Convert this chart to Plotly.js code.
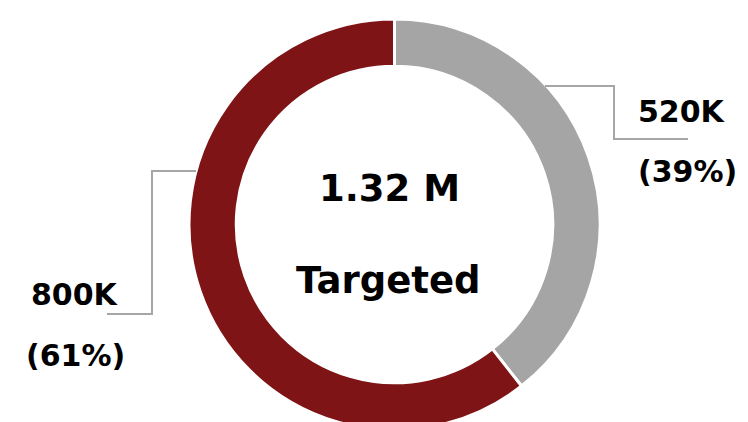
<!DOCTYPE html>
<html>
<head>
<meta charset="utf-8">
<script src="https://cdn.plot.ly/plotly-3.0.1.min.js"></script>
<style>
html,body{margin:0;padding:0;overflow:hidden;background:#fff;width:748px;height:422px;}
#chart{width:748px;height:440px;}
</style>
</head>
<body>
<div id="chart"></div>
<script>
const categories = ["Segment A", "Segment B"];
const values = [520, 800];
const valueLabels = ["520K", "800K"];
const pctLabels = ["(39%)", "(61%)"];
const colors = ["#A5A5A5", "#7F1416"];
const totalLabel = "1.32 M";
const centerLabel = "Targeted";

const W = 748, H = 440;
const px = x => x / W;
const py = y => 1 - y / H;

const font = {family: "DejaVu Sans, Verdana, sans-serif", size: 30, color: "#000", weight: "bold"};
const bigFont = {family: "DejaVu Sans, Verdana, sans-serif", size: 37, color: "#000", weight: "bold"};

const trace = {
  type: "pie",
  labels: categories,
  values: values,
  sort: false,
  direction: "clockwise",
  rotation: 0,
  hole: 0.77,
  textinfo: "none",
  hoverinfo: "none",
  marker: {colors: colors, line: {color: "#fff", width: 3}},
  domain: {x: [px(189), px(600)], y: [py(430), py(19)]},
  showlegend: false
};

const lineStyle = {color: "#A6A6A6", width: 2};
const shapes = [
  {type: "path", xref: "paper", yref: "paper",
   path: `M ${px(196)} ${py(171)} L ${px(152)} ${py(171)} L ${px(152)} ${py(314)} L ${px(107)} ${py(314)}`,
   line: lineStyle},
  {type: "path", xref: "paper", yref: "paper",
   path: `M ${px(545)} ${py(86)} L ${px(614)} ${py(86)} L ${px(614)} ${py(139)} L ${px(688)} ${py(139)}`,
   line: lineStyle}
];

const annotations = [
  {text: totalLabel, x: px(389), y: py(188), font: bigFont},
  {text: centerLabel, x: px(388), y: py(280), font: bigFont},
  {text: valueLabels[1], x: px(75), y: py(294), font: font},
  {text: pctLabels[1], x: px(75), y: py(355), font: font},
  {text: valueLabels[0], x: px(636), y: py(112), font: font, xanchor: "left"},
  {text: pctLabels[0], x: px(636), y: py(172), font: font, xanchor: "left"}
].map(a => Object.assign({xref: "paper", yref: "paper", showarrow: false, xanchor: "center", yanchor: "middle"}, a));

const layout = {
  width: W, height: H,
  margin: {l: 0, r: 0, t: 0, b: 0},
  paper_bgcolor: "#fff",
  plot_bgcolor: "#fff",
  shapes: shapes,
  annotations: annotations
};

Plotly.newPlot("chart", [trace], layout, {displayModeBar: false, staticPlot: true});
</script>
</body>
</html>
